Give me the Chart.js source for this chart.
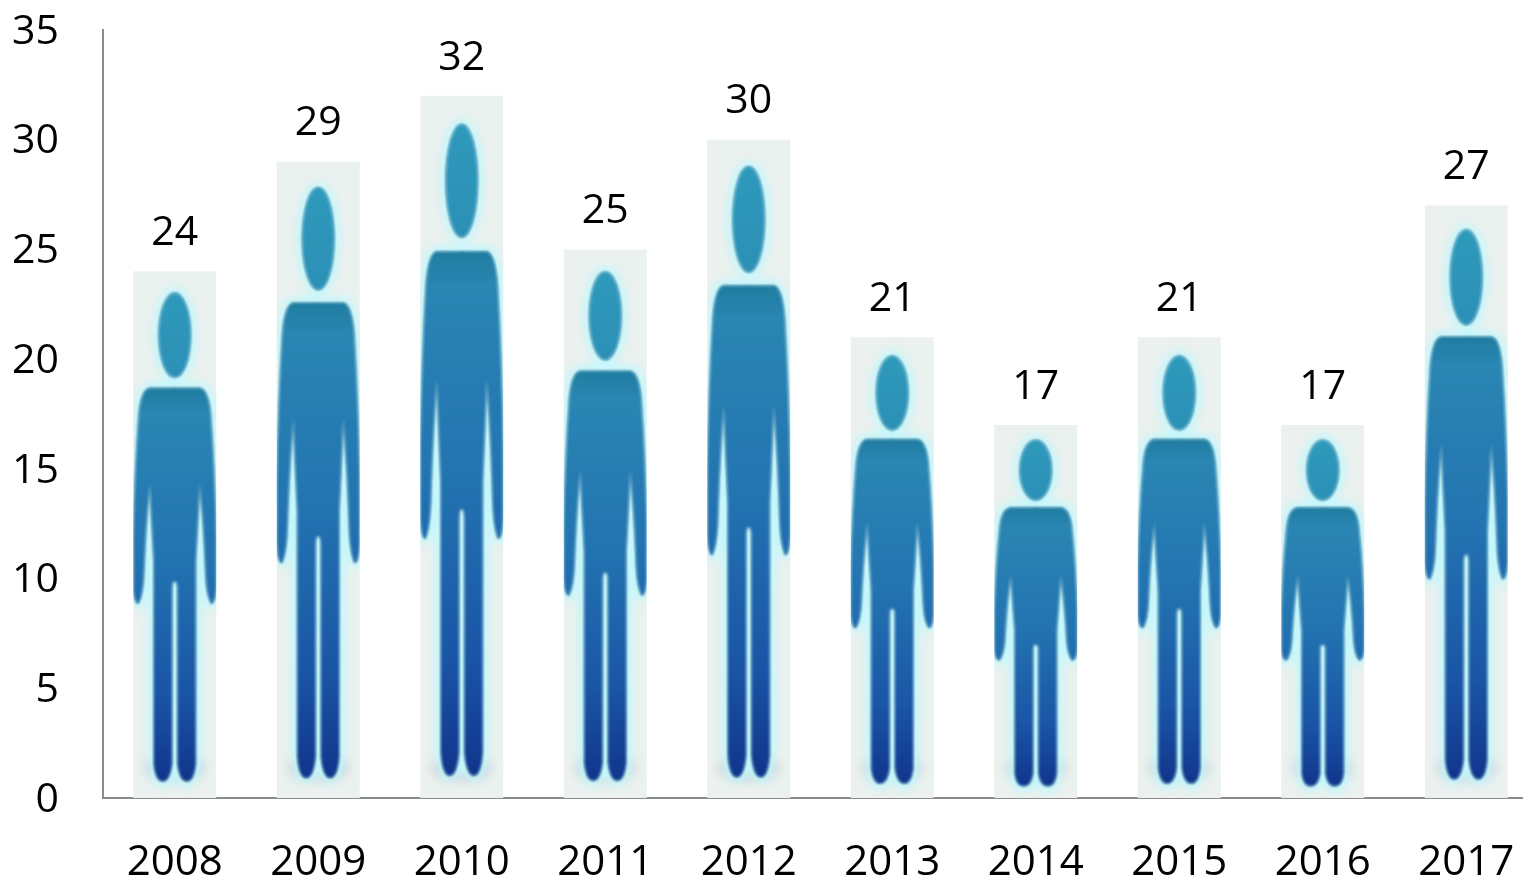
<!DOCTYPE html>
<html lang="en">

<head>
    <meta charset="UTF-8">
    <title>Pictogram bars</title>
    <script src="https://cdn.jsdelivr.net/npm/chart.js@4"></script>
</head>
<style>
    html, body {
        margin: 0;
        padding: 0;
        width: 1523px;
        height: 881px;
        overflow: hidden;
        background: #fff;
    }
    canvas {
        display: block;
    }
</style>

<body>
    <canvas id="mychart" width="1538" height="881" style="width:1538px;height:881px"></canvas>
    <script>
        const years = ["2008", "2009", "2010", "2011", "2012", "2013", "2014", "2015", "2016", "2017"]
        const counts = [24, 29, 32, 25, 30, 21, 17, 21, 17, 27]
        const yTicks = [0, 5, 10, 15, 20, 25, 30, 35]

        const fontName = '"Open Sans", sans-serif'
        const fontSize = 41

        // one half of the figure, in fractions of the bar (x from the centre, y from the top)
        function bodyPath(ctx, b, side) {
            const cx = b.x
            const X = f => cx + side * f * b.w
            const Y = f => b.y + f * b.h
            ctx.moveTo(cx, Y(0.222))
            ctx.lineTo(X(0.30), Y(0.222))
            ctx.quadraticCurveTo(X(0.40), Y(0.224), X(0.43), Y(0.27))
            ctx.quadraticCurveTo(X(0.48), Y(0.38), X(0.495), Y(0.50))
            ctx.lineTo(X(0.495), Y(0.60))
            ctx.quadraticCurveTo(X(0.485), Y(0.63), X(0.44), Y(0.63))
            ctx.quadraticCurveTo(X(0.385), Y(0.615), X(0.375), Y(0.575))
            ctx.quadraticCurveTo(X(0.35), Y(0.47), X(0.30), Y(0.405))
            ctx.lineTo(X(0.25), Y(0.55))
            ctx.lineTo(X(0.25), Y(0.935))
            ctx.quadraticCurveTo(X(0.23), Y(0.968), X(0.145), Y(0.968))
            ctx.quadraticCurveTo(X(0.06), Y(0.968), X(0.035), Y(0.935))
            ctx.lineTo(X(0.035), Y(0.60))
            ctx.quadraticCurveTo(X(0.03), Y(0.588), cx, Y(0.588))
            ctx.closePath()
        }

        function figurePath(ctx, b) {
            ctx.beginPath()
            ctx.ellipse(b.x, b.y + 0.121 * b.h, 0.19 * b.w, 0.08 * b.h, 0, 0, Math.PI * 2)
            ctx.closePath()
            bodyPath(ctx, b, -1)
            bodyPath(ctx, b, 1)
        }

        const figures = {
            id: 'figures',
            beforeDraw(chart) {
                // Open Sans digits sit high on a middle baseline
                chart.scales.y.getLabelItems().forEach(item => {
                    if (!item.nudged) {
                        item.options.translation[1] += 2
                        item.nudged = true
                    }
                })
            },
            afterDatasetsDraw(chart) {
                const ctx = chart.ctx
                const meta = chart.getDatasetMeta(0)
                meta.data.forEach((el, i) => {
                    const b = { x: el.x, y: el.y, w: el.width, h: el.base - el.y }
                    ctx.save()
                    ctx.beginPath()
                    ctx.rect(b.x - b.w / 2, b.y, b.w, b.h)
                    ctx.clip()

                    // floor shadow under the feet
                    ctx.filter = 'blur(5px)'
                    ctx.fillStyle = 'rgba(170,160,180,0.4)'
                    ctx.beginPath()
                    ctx.ellipse(b.x, el.base - 30, 0.36 * b.w, 13, 0, 0, Math.PI * 2)
                    ctx.fill()

                    // pale halo round the figure
                    ctx.filter = 'blur(5px)'
                    ctx.fillStyle = '#c4f7fc'
                    ctx.strokeStyle = '#c4f7fc'
                    ctx.lineWidth = 11
                    figurePath(ctx, b)
                    ctx.fill()
                    ctx.stroke()

                    // the figure, dark rim first so the fill hides the centre seam
                    const g = ctx.createLinearGradient(0, b.y, 0, el.base)
                    g.addColorStop(0, '#2f9cbd')
                    g.addColorStop(0.2, '#2c90b6')
                    g.addColorStop(0.22, '#1f7c9f')
                    g.addColorStop(0.27, '#2a86b3')
                    g.addColorStop(0.55, '#2373b1')
                    g.addColorStop(0.8, '#1a55a6')
                    g.addColorStop(0.96, '#11378d')
                    ctx.filter = 'blur(1px)'
                    ctx.strokeStyle = 'rgba(18,80,125,0.6)'
                    ctx.lineWidth = 1.5
                    figurePath(ctx, b)
                    ctx.stroke()
                    ctx.fillStyle = g
                    ctx.fill()
                    ctx.restore()

                    // value above the bar
                    ctx.save()
                    ctx.font = fontSize + 'px ' + fontName
                    ctx.fillStyle = '#000'
                    ctx.textAlign = 'center'
                    ctx.textBaseline = 'middle'
                    ctx.fillText(counts[i], el.x, el.y - 38)
                    ctx.restore()
                })
            }
        }

        const chart = new Chart(document.getElementById('mychart'), {
            type: 'bar',
            data: {
                labels: years,
                datasets: [{
                    data: counts,
                    backgroundColor: '#ebf1ee',
                    borderWidth: 0,
                    barPercentage: 0.578,
                    categoryPercentage: 1
                }]
            },
            options: {
                responsive: false,
                animation: false,
                layout: { padding: { top: 30 } },
                plugins: {
                    legend: { display: false },
                    title: { display: false },
                    tooltip: { enabled: false }
                },
                scales: {
                    x: {
                        grid: { display: false },
                        border: { color: '#8c8c8c', width: 2 },
                        afterFit(scale) {
                            scale.height = 83
                            scale.paddingLeft = 0
                            scale.paddingRight = 0
                        },
                        ticks: {
                            color: '#000',
                            padding: 32,
                            maxRotation: 0,
                            autoSkip: false,
                            font: { family: fontName, size: 42 }
                        }
                    },
                    y: {
                        min: 0,
                        max: 35,
                        afterFit(scale) {
                            scale.width = 103
                            scale.paddingTop = 0
                            scale.paddingBottom = 0
                        },
                        afterBuildTicks(scale) { scale.ticks = yTicks.map(v => ({ value: v })) },
                        grid: { display: false },
                        border: { color: '#8c8c8c', width: 2 },
                        ticks: {
                            color: '#000',
                            padding: 36,
                            font: { family: fontName, size: fontSize }
                        }
                    }
                }
            },
            plugins: [figures]
        })
    </script>
</body>

</html>
